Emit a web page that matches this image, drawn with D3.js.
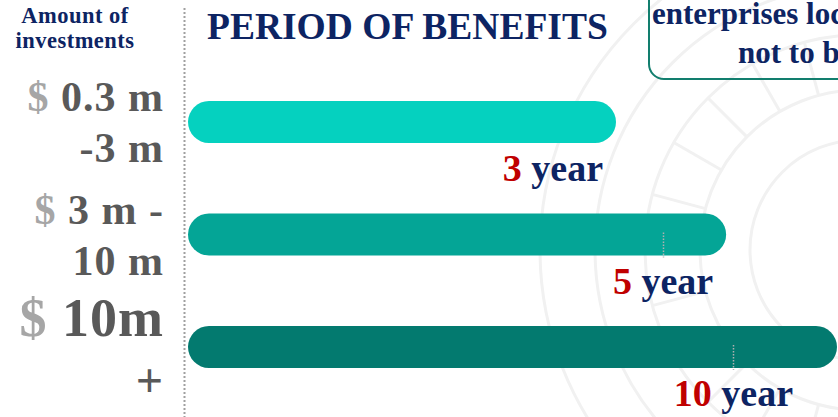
<!DOCTYPE html>
<html>
<head>
<meta charset="utf-8">
<script src="https://cdn.jsdelivr.net/npm/d3@7"></script>
<style>
  html, body { margin: 0; padding: 0; background: #fff; }
  svg { display: block; font-family: "Liberation Serif", "DejaVu Serif", serif; }
</style>
</head>
<body>
<div id="wrapper"></div>
<script>
// data
const currency = "$"
const amountLines = [["0.3 m", "-3 m"], ["3 m -", "10 m"], ["10m", "+"]]
const periods = [3, 5, 10]
const periodUnit = "year"
const title = "PERIOD OF BENEFITS"
const axisTitle = ["Amount of", "investments"]
const noteLines = ["enterprises located in", "not to be"]

function drawChart() {
  const width = 838
  const height = 417
  const barHeight = 42
  const barLeft = 188

  const navy = "#0d2463"
  const red = "#c00000"
  const barColors = ["#05d1bf", "#04a596", "#037a6f"]

  const svg = d3.select("#wrapper")
    .append("svg")
    .attr("width", width)
    .attr("height", height)

  // faint watermark ornament on the right
  const deco = svg.append("g")
    .attr("fill", "none")
    .attr("stroke", "#f1f1f1")
    .attr("stroke-width", 3)
  ;[110, 160, 215, 265, 320].forEach(r => {
    deco.append("circle").attr("cx", 860).attr("cy", 250).attr("r", r)
  })
  d3.range(0, 360, 15).forEach(a => {
    const t = a * Math.PI / 180
    deco.append("line")
      .attr("x1", 860 + 160 * Math.cos(t)).attr("y1", 250 + 160 * Math.sin(t))
      .attr("x2", 860 + 215 * Math.cos(t)).attr("y2", 250 + 215 * Math.sin(t))
  })

  // scales
  const yScale = d3.scalePoint()
    .domain(d3.range(periods.length))
    .range([122, 347])

  // bars are drawn as a pictogram, not to a linear length
  const xScale = d3.scalePow()
    .exponent(-0.5)
    .domain([3, 10])
    .range([616, 837])

  // dotted divider
  svg.append("line")
    .attr("x1", 184.5).attr("x2", 184.5)
    .attr("y1", 8).attr("y2", height)
    .attr("stroke", "#a0a0a0")
    .attr("stroke-width", 2)
    .attr("stroke-dasharray", "2,2")

  // bars
  svg.selectAll("rect.bar")
    .data(periods)
    .join("rect")
    .attr("class", "bar")
    .attr("x", barLeft)
    .attr("y", (d, i) => yScale(i) - barHeight / 2)
    .attr("width", d => xScale(d) - barLeft)
    .attr("height", barHeight)
    .attr("rx", barHeight / 2)
    .attr("fill", (d, i) => barColors[i])

  // period labels
  const labels = svg.selectAll("text.period")
    .data(periods)
    .join("text")
    .attr("class", "period")
    .attr("x", d => Math.min(xScale(d) - 13, width - 45))
    .attr("y", (d, i) => yScale(i) + 59)
    .attr("text-anchor", "end")
    .attr("font-size", 38)
    .attr("font-weight", "bold")
  labels.append("tspan").attr("fill", red).text(d => d)
  labels.append("tspan").attr("fill", navy).text(" " + periodUnit)

  // small dotted markers under the label centre
  labels.each(function(d, i) {
    if (i === 0) return
    const b = this.getBBox()
    const cx = Math.round(b.x + b.width / 2) + 0.5
    svg.append("line")
      .attr("x1", cx).attr("x2", cx)
      .attr("y1", yScale(i) - 2).attr("y2", yScale(i) + 23)
      .attr("stroke", "#b0b0b0")
      .attr("stroke-width", 1.5)
      .attr("stroke-dasharray", "1.5,1.5")
  })

  // amount labels on the left
  const sizes = [42, 42, 54]
  const line2Off = [40, 40, 50]
  const line2Size = [42, 42, 48]
  amountLines.forEach((lines, i) => {
    const cy = yScale(i)
    const t1 = svg.append("text")
      .attr("x", 164)
      .attr("y", cy - 11)
      .attr("text-anchor", "end")
      .attr("font-size", sizes[i])
      .attr("font-weight", "bold")
      .attr("letter-spacing", 1)
    t1.append("tspan").attr("fill", "#a6a6a6").text(currency + " ")
    t1.append("tspan").attr("fill", "#595959").text(lines[0])
    svg.append("text")
      .attr("x", 164)
      .attr("y", cy + line2Off[i])
      .attr("text-anchor", "end")
      .attr("font-size", line2Size[i])
      .attr("font-weight", "bold")
      .attr("letter-spacing", 1)
      .attr("fill", "#595959")
      .text(lines[1])
  })

  // axis title
  svg.selectAll("text.axis-title")
    .data(axisTitle)
    .join("text")
    .attr("class", "axis-title")
    .attr("x", 75)
    .attr("y", (d, i) => 23 + i * 25)
    .attr("text-anchor", "middle")
    .attr("font-size", 22.5)
    .attr("font-weight", "bold")
    .attr("letter-spacing", 0.5)
    .attr("fill", navy)
    .text(d => d)

  // title
  svg.append("text")
    .attr("x", 207)
    .attr("y", 39)
    .attr("font-size", 37.5)
    .attr("font-weight", "bold")
    .attr("fill", navy)
    .text(title)

  // note box cut off at the top right
  svg.append("rect")
    .attr("x", 649)
    .attr("y", -30)
    .attr("width", 240)
    .attr("height", 109)
    .attr("rx", 15)
    .attr("fill", "none")
    .attr("stroke", "#127e6e")
    .attr("stroke-width", 2)

  svg.append("text")
    .attr("x", 652).attr("y", 24)
    .attr("font-size", 31)
    .attr("font-weight", "bold")
    .attr("fill", navy)
    .text(noteLines[0])
  svg.append("text")
    .attr("x", 738).attr("y", 63)
    .attr("font-size", 31)
    .attr("font-weight", "bold")
    .attr("fill", navy)
    .text(noteLines[1])
}

drawChart()
</script>
</body>
</html>
